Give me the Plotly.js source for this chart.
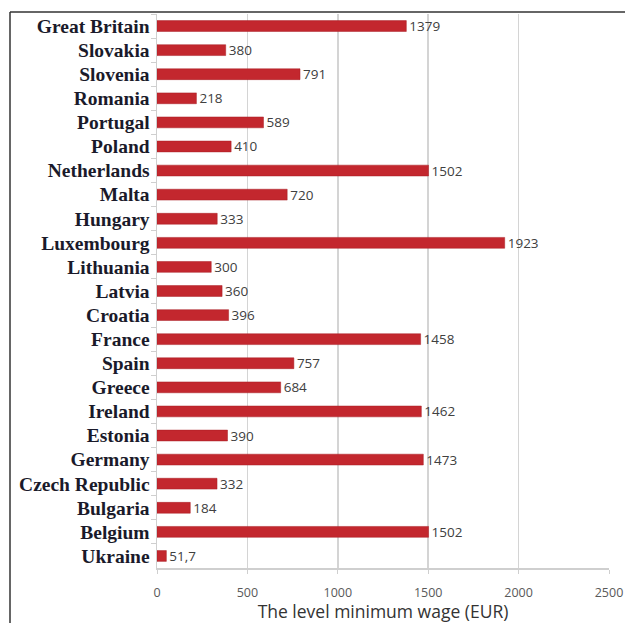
<!DOCTYPE html>
<html>
<head>
<meta charset="utf-8">
<script src="https://cdn.plot.ly/plotly-3.0.1.min.js"></script>
<style>
html,body{margin:0;padding:0;background:#fff;}
#chart{width:625px;height:623px;}
</style>
</head>
<body>
<div id="chart"></div>
<script>
const countries = ["Great Britain","Slovakia","Slovenia","Romania","Portugal","Poland","Netherlands","Malta","Hungary","Luxembourg","Lithuania","Latvia","Croatia","France","Spain","Greece","Ireland","Estonia","Germany","Czech Republic","Bulgaria","Belgium","Ukraine"];
const wages = [1379,380,791,218,589,410,1502,720,333,1923,300,360,396,1458,757,684,1462,390,1473,332,184,1502,51.7];
const xTicks = [0,500,1000,1500,2000,2500];
const xTitle = "The level minimum wage (EUR)";

const labels = wages.map(v => String(v).replace('.', ','));

const trace = {
  type: 'bar',
  orientation: 'h',
  x: wages,
  y: countries,
  text: labels,
  textposition: 'outside',
  constraintext: 'none',
  cliponaxis: false,
  textfont: {family: 'Open Sans, Liberation Sans, sans-serif', size: 13.5, color: '#404040'},
  marker: {color: '#c3272e', line: {color: '#a81e24', width: 0.5}},
  hoverinfo: 'none'
};

const layout = {
  width: 625, height: 623,
  margin: {l: 157, r: 16, t: 14, b: 55},
  paper_bgcolor: '#ffffff',
  plot_bgcolor: '#ffffff',
  bargap: 0.55,
  showlegend: false,
  xaxis: {
    range: [0, 2500],
    tickvals: xTicks,
    ticktext: xTicks.map(String),
    showgrid: true, gridcolor: '#d4d4d4', gridwidth: 1.5,
    zeroline: false,
    showline: true, linecolor: '#cfcfcf', linewidth: 1.5,
    ticks: 'outside', ticklen: 4, tickcolor: '#cfcfcf',
    ticklabelstandoff: 8,
    tickfont: {family: 'Open Sans, Liberation Sans, sans-serif', size: 12.5, color: '#595959'},
    title: {text: xTitle, standoff: 4, font: {family: 'Open Sans, Liberation Sans, sans-serif', size: 17.5, color: '#333333'}}
  },
  yaxis: {
    type: 'category',
    autorange: 'reversed',
    showgrid: false,
    zeroline: false,
    showline: true, linecolor: '#cfcfcf', linewidth: 1.5,
    ticks: 'outside', ticklen: 5, tickcolor: '#cfcfcf', tickson: 'boundaries',
    ticklabelstandoff: 2,
    tickfont: {family: 'Liberation Serif, Times New Roman, serif', size: 19.5, color: '#1a1a2a', weight: 'bold'}
  },
  shapes: [
    {type: 'line', xref: 'paper', yref: 'paper', x0: -147/452, x1: -147/452, y0: 1 + 2/554, y1: -55/554, line: {color: '#333333', width: 1.5}},
    {type: 'line', xref: 'paper', yref: 'paper', x0: -147/452, x1: 468/452, y0: 1 + 2/554, y1: 1 + 2/554, line: {color: '#333333', width: 1.5}}
  ]
};

Plotly.newPlot('chart', [trace], layout, {displayModeBar: false, staticPlot: true});
</script>
</body>
</html>
